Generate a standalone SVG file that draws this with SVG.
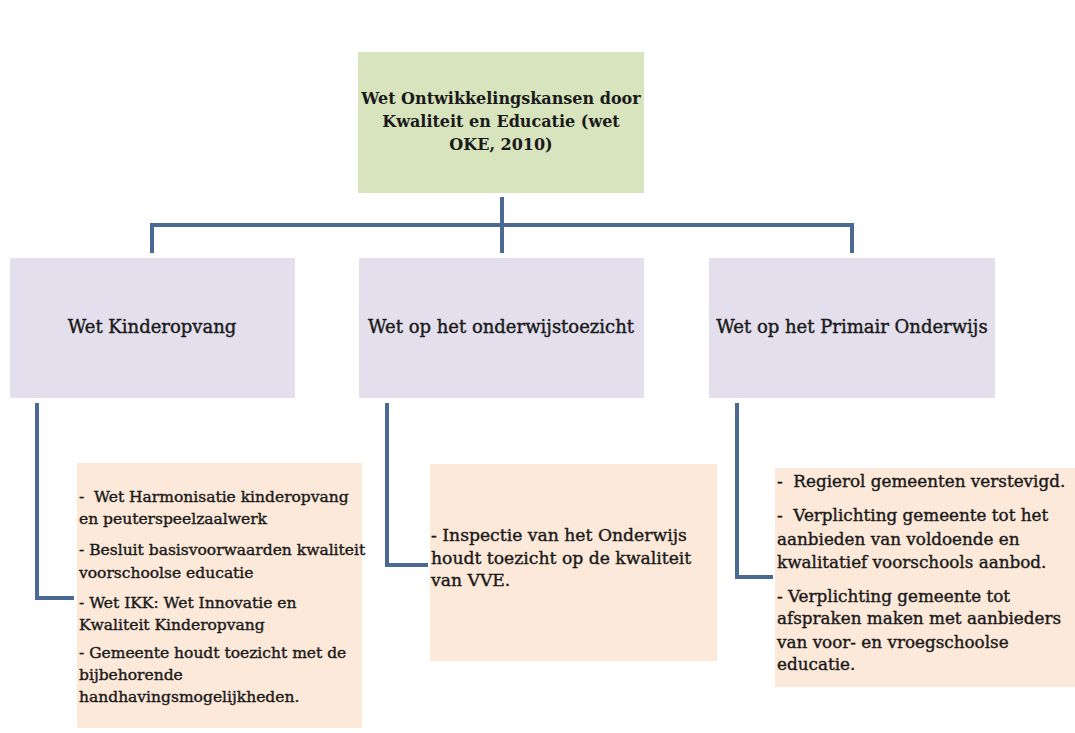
<svg xmlns="http://www.w3.org/2000/svg" width="1075" height="733" viewBox="0 0 1075 733">
<style>
  text { font-family: "DejaVu Serif", "Liberation Serif", serif; fill: #1a1a1a; stroke: #1a1a1a; stroke-width: 0.4; white-space: pre; }
  .top { font-size: 16px; font-weight: bold; text-anchor: middle; stroke-width: 0; }
  .mid { font-size: 18px; text-anchor: middle; }
  .body { font-size: 16.8px; }
  .small { font-size: 15.5px; }
  .med { font-size: 17.2px; }
  .conn { fill: none; stroke: #4a6a94; stroke-width: 4; }
</style>
<rect width="1075" height="733" fill="#ffffff"/>
<g id="connectors">
  <path class="conn" d="M502 197 V253"/>
  <path class="conn" d="M152 253 V225 H852 V253"/>
  <path class="conn" d="M37 403 V598 H74"/>
  <path class="conn" d="M387 403 V565 H428"/>
  <path class="conn" d="M737 403 V577 H773"/>
</g>
<g id="node-oke">
  <rect x="358" y="52" width="286" height="141" fill="#d7e4bd"/>
  <text class="top" x="501" y="104">Wet Ontwikkelingskansen door</text>
  <text class="top" x="501" y="127">Kwaliteit en Educatie (wet</text>
  <text class="top" x="501" y="150">OKE, 2010)</text>
</g>
<g id="node-kinderopvang">
  <rect x="10" y="258" width="285" height="140" fill="#e4dfec"/>
  <text class="mid" x="152" y="333">Wet Kinderopvang</text>
</g>
<g id="node-toezicht">
  <rect x="359" y="258" width="285" height="140" fill="#e4dfec"/>
  <text class="mid" x="501" y="333">Wet op het onderwijstoezicht</text>
</g>
<g id="node-primair">
  <rect x="709" y="258" width="286" height="140" fill="#e4dfec"/>
  <text class="mid" x="852" y="333">Wet op het Primair Onderwijs</text>
</g>
<g id="node-kinderopvang-detail">
  <rect x="77" y="463" width="285" height="265" fill="#fde9d9"/>
  <text class="small" x="79" y="502">-  Wet Harmonisatie kinderopvang</text>
  <text class="small" x="79" y="524">en peuterspeelzaalwerk</text>
  <text class="small" x="79" y="555">- Besluit basisvoorwaarden kwaliteit</text>
  <text class="small" x="79" y="578">voorschoolse educatie</text>
  <text class="small" x="79" y="608">- Wet IKK: Wet Innovatie en</text>
  <text class="small" x="79" y="630">Kwaliteit Kinderopvang</text>
  <text class="small" x="79" y="658">- Gemeente houdt toezicht met de</text>
  <text class="small" x="79" y="680">bijbehorende</text>
  <text class="small" x="79" y="702">handhavingsmogelijkheden.</text>
</g>
<g id="node-toezicht-detail">
  <rect x="430" y="464" width="287" height="197" fill="#fde9d9"/>
  <text class="med" x="431" y="541">- Inspectie van het Onderwijs</text>
  <text class="med" x="431" y="564">houdt toezicht op de kwaliteit</text>
  <text class="med" x="431" y="586">van VVE.</text>
</g>
<g id="node-primair-detail">
  <rect x="775" y="468" width="300" height="219" fill="#fde9d9"/>
  <text class="body" x="777" y="487">-  Regierol gemeenten verstevigd.</text>
  <text class="body" x="777" y="521">-  Verplichting gemeente tot het</text>
  <text class="body" x="777" y="545">aanbieden van voldoende en</text>
  <text class="body" x="777" y="568">kwalitatief voorschools aanbod.</text>
  <text class="body" x="777" y="602">- Verplichting gemeente tot</text>
  <text class="body" x="777" y="624">afspraken maken met aanbieders</text>
  <text class="body" x="777" y="648">van voor- en vroegschoolse</text>
  <text class="body" x="777" y="670">educatie.</text>
</g>
</svg>
